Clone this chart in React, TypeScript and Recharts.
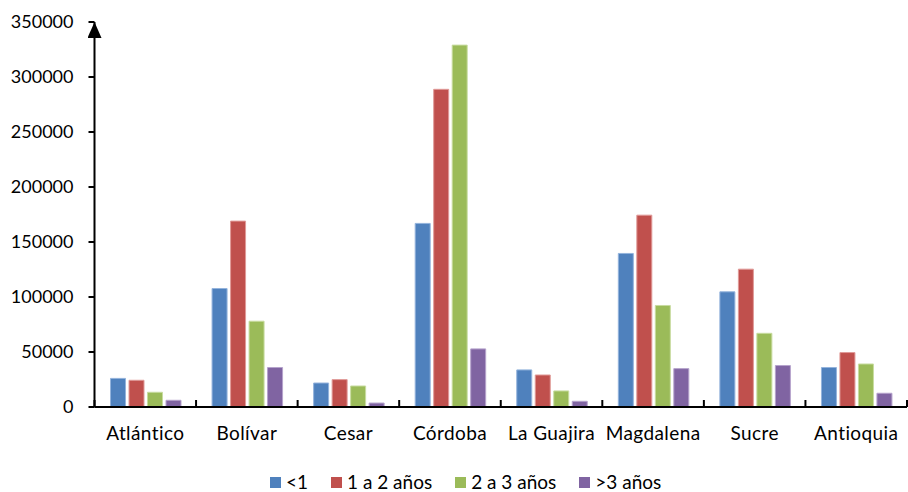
import { Bar, BarChart, Legend, XAxis, YAxis } from "recharts";

const categories = ["Atlántico", "Bolívar", "Cesar", "Córdoba", "La Guajira", "Magdalena", "Sucre", "Antioquia"];
const menosDeUno = [26000, 107700, 21800, 166900, 33700, 139600, 104700, 35900];
const unoADos = [24300, 169000, 24900, 288800, 29100, 174400, 125300, 49500];
const dosATres = [13400, 78000, 19100, 329000, 14600, 92300, 67000, 39100];
const masDeTres = [6100, 35900, 3600, 52800, 5200, 34900, 37700, 12500];
const yTicks = [0, 50000, 100000, 150000, 200000, 250000, 300000, 350000];

const SERIES = [
  { key: "lt1", name: "<1", color: "#4F81BD", edge: "#93b3dc" },
  { key: "y12", name: "1 a 2 años", color: "#C0504D", edge: "#e09a98" },
  { key: "y23", name: "2 a 3 años", color: "#9BBB59", edge: "#c8dca0" },
  { key: "gt3", name: ">3 años", color: "#8064A2", edge: "#b5a3cc" },
];

const data = categories.map((name, i) => ({
  name,
  lt1: menosDeUno[i],
  y12: unoADos[i],
  y23: dosATres[i],
  gt3: masDeTres[i],
}));

const FONT = "Lato, 'Open Sans', sans-serif";
const W = 908;
const H = 492;
const Y_AXIS_W = 94.5;
const MARGIN = { top: 22, right: 1, bottom: 0, left: 0 };
const X_LABEL_GAP = 20;
const BAND = (W - Y_AXIS_W - MARGIN.right) / categories.length;

function CategoryTick(props: any) {
  const { x, y, payload, index } = props;
  const half = payload && payload.offset > 0 ? payload.offset : BAND / 2;
  const axisY = y - X_LABEL_GAP;
  const last = index === categories.length - 1;
  return (
    <g>
      <line x1={x - half} x2={x - half} y1={axisY} y2={axisY - 7} stroke="#000" strokeWidth={2} />
      {last && <line x1={x + half} x2={x + half} y1={axisY} y2={axisY - 7} stroke="#000" strokeWidth={2} />}
      <text
        x={x}
        y={y}
        dy="0.7em"
        textAnchor="middle"
        fill="#000"
        fontSize={19}
        letterSpacing={0.4}
        fontFamily={FONT}
      >
        {payload.value}
      </text>
    </g>
  );
}

function ChartLegend() {
  return (
    <div
      style={{
        height: 37,
        boxSizing: "border-box",
        paddingTop: 17,
        paddingLeft: 270,
        display: "flex",
        alignItems: "center",
        fontFamily: FONT,
        fontSize: 19,
        lineHeight: "20px",
        color: "#000",
      }}
    >
      {SERIES.map((s) => (
        <div key={s.key} style={{ display: "flex", alignItems: "center", marginRight: 23 }}>
          <span style={{ width: 11, height: 11, background: s.color, marginRight: 5, display: "inline-block" }} />
          <span>{s.name}</span>
        </div>
      ))}
    </div>
  );
}

export default function App() {
  return (
    <div style={{ position: "absolute", left: 0, top: 0, width: W, height: H, background: "#fff" }}>
      <svg width={0} height={0} style={{ position: "absolute" }}>
        <defs>
          <marker
            id="yArrow"
            viewBox="0 0 16 14"
            markerWidth={16}
            markerHeight={14}
            refX={16}
            refY={7}
            markerUnits="userSpaceOnUse"
            orient="auto-start-reverse"
          >
            <path d="M0,0 L16,7 L0,14 Z" fill="#000" />
          </marker>
        </defs>
      </svg>
      <BarChart width={W} height={H} data={data} margin={MARGIN} barSize={15} barGap={3.5}>
        <XAxis
          dataKey="name"
          height={48}
          tickLine={false}
          tickSize={0}
          tickMargin={X_LABEL_GAP}
          interval={0}
          axisLine={{ stroke: "#000", strokeWidth: 2 }}
          tick={<CategoryTick />}
        />
        <YAxis
          width={Y_AXIS_W}
          domain={[0, 350000]}
          ticks={yTicks}
          interval={0}
          tickSize={6}
          tickMargin={15}
          tick={{ fontSize: 18, fontFamily: FONT, fill: "#000" }}
          tickLine={{ stroke: "#000", strokeWidth: 2 }}
          axisLine={{ stroke: "#000", strokeWidth: 2, markerStart: "url(#yArrow)" }}
        />
        <Legend verticalAlign="bottom" content={() => <ChartLegend />} />
        {SERIES.map((s) => (
          <Bar
            key={s.key}
            dataKey={s.key}
            name={s.name}
            fill={s.color}
            stroke={s.edge}
            strokeWidth={1}
            isAnimationActive={false}
          />
        ))}
      </BarChart>
    </div>
  );
}
